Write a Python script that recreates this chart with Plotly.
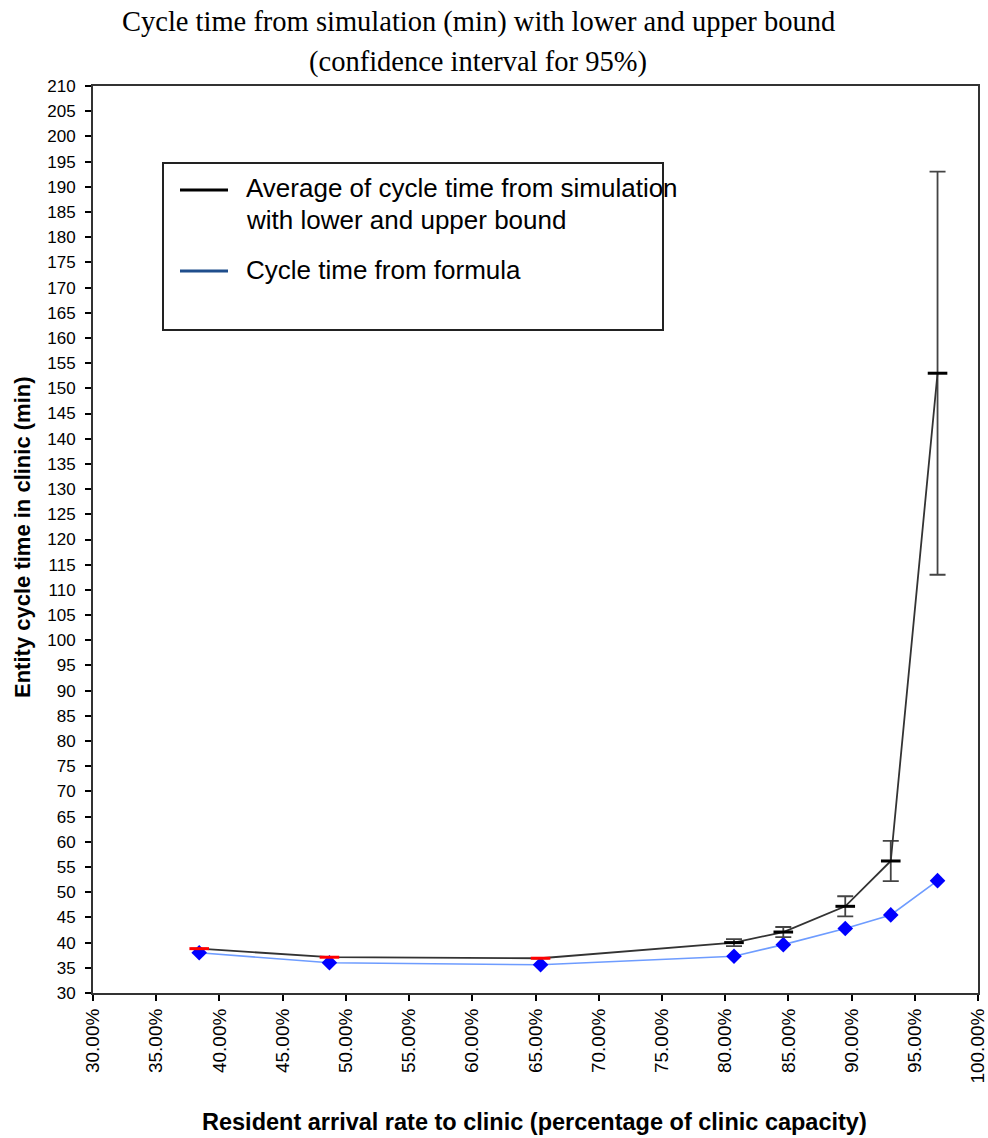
import plotly.graph_objects as go

# Arrival rate (percent of clinic capacity)
arrival_pct = [38.4, 48.7, 65.4, 80.7, 84.6, 89.5, 93.1, 96.8]
# Average simulated cycle time (min) and 95% CI half-width
sim_avg = [38.8, 37.1, 36.9, 40.0, 42.1, 47.2, 56.2, 153.0]
sim_ci = [0.0, 0.0, 0.0, 0.7, 1.0, 2.0, 4.0, 40.0]
# Cycle time from the queueing formula (min)
formula_ct = [38.0, 36.0, 35.6, 37.3, 39.6, 42.8, 45.5, 52.3]

x_ticks = list(range(30, 101, 5))
x_ticktext = [f"{v:.2f}%" for v in x_ticks]
y_ticks = list(range(30, 211, 5))

sim_marker_colors = ["#FF0000"] * 3 + ["#000000"] * 5

SANS = "Liberation Sans, Arial, sans-serif"
SERIF = "Liberation Serif, Times New Roman, serif"

# plot-area pixel frame used to place the free-floating text and legend box
L, R, T, B = 93, 978, 86, 993
W, H = R - L, B - T


def px(x):
    return (x - L) / W


def py(y):
    return (B - y) / H


fig = go.Figure()

fig.add_trace(go.Scatter(
    x=arrival_pct, y=formula_ct, mode="lines+markers",
    line=dict(color="#6E9CFF", width=1.6),
    marker=dict(symbol="diamond", size=12, color="#0000FF"),
    showlegend=False,
))

fig.add_trace(go.Scatter(
    x=arrival_pct, y=sim_avg, mode="lines+markers",
    line=dict(color="#333333", width=1.8),
    marker=dict(symbol="line-ew", size=14,
                line=dict(color=sim_marker_colors, width=3)),
    error_y=dict(type="data", array=sim_ci, visible=True,
                 color="#444444", thickness=1.8, width=8),
    showlegend=False,
))

fig.update_xaxes(
    range=[30, 100], tickvals=x_ticks, ticktext=x_ticktext, tickangle=-90,
    tickfont=dict(family=SANS, size=19, color="#000"),
    showline=True, linecolor="#333", linewidth=2, mirror=True,
    ticks="outside", ticklen=6, tickcolor="#000", tickwidth=1.5,
    showgrid=False, zeroline=False, automargin=False,
    ticklabeloverflow="allow",
)
fig.update_yaxes(
    range=[30, 210], tickvals=y_ticks,
    tickfont=dict(family=SANS, size=17, color="#000"),
    showline=True, linecolor="#333", linewidth=2, mirror=True,
    ticks="outside", ticklen=6, tickcolor="#000", tickwidth=1.5,
    ticklabelstandoff=6,
    showgrid=False, zeroline=False, automargin=False,
    ticklabeloverflow="allow",
)

anns = []
for txt, y in [("Cycle time from simulation (min) with lower and upper bound", 22),
               ("(confidence interval for 95%)", 62)]:
    anns.append(dict(text=txt, xref="paper", yref="paper",
                     x=px(478), y=py(y), xanchor="center", yanchor="middle",
                     showarrow=False,
                     font=dict(family=SERIF, size=28.5, color="#000")))

# axis titles
anns.append(dict(text="<b>Entity cycle time in clinic (min)</b>",
                 xref="paper", yref="paper", x=px(22), y=py(537),
                 textangle=-90, showarrow=False,
                 xanchor="center", yanchor="middle",
                 font=dict(family=SANS, size=22, color="#000")))
anns.append(dict(text="<b>Resident arrival rate to clinic (percentage of clinic capacity)</b>",
                 xref="paper", yref="paper", x=px(534), y=py(1122),
                 showarrow=False, xanchor="center", yanchor="middle",
                 font=dict(family=SANS, size=23.5, color="#000")))

# legend box contents
legend_rows = [
    ("Average of cycle time from simulation", 188),
    ("with lower and upper bound", 220),
    ("Cycle time from formula", 270),
]
for txt, y in legend_rows:
    anns.append(dict(text=txt, xref="paper", yref="paper",
                     x=px(244), y=py(y), xanchor="left", yanchor="middle",
                     showarrow=False,
                     font=dict(family=SANS, size=26, color="#000")))

shapes = [
    dict(type="rect", xref="paper", yref="paper",
         x0=px(163), x1=px(663), y0=py(330), y1=py(163),
         line=dict(color="#222", width=2), fillcolor="white", layer="below"),
    dict(type="line", xref="paper", yref="paper",
         x0=px(180), x1=px(228), y0=py(190), y1=py(190),
         line=dict(color="#000", width=3)),
    dict(type="line", xref="paper", yref="paper",
         x0=px(180), x1=px(228), y0=py(271), y1=py(271),
         line=dict(color="#1F4E8C", width=3)),
]

fig.update_layout(
    width=988, height=1138,
    margin=dict(l=L, r=988 - R, t=T, b=1138 - B),
    paper_bgcolor="white", plot_bgcolor="white",
    annotations=anns, shapes=shapes, showlegend=False,
)

fig.write_html("out.html")
